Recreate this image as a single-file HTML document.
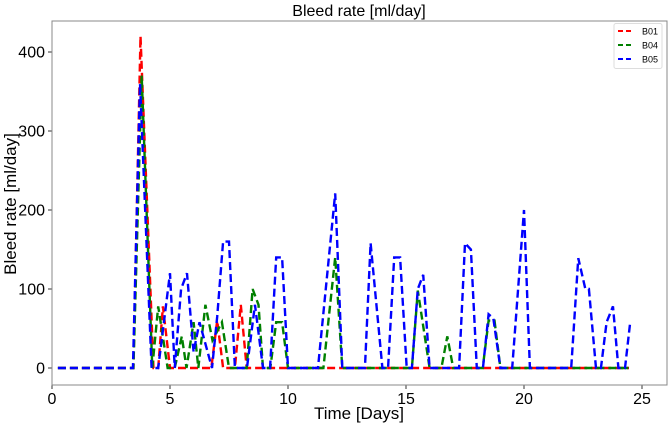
<!DOCTYPE html>
<html><head><meta charset="utf-8"><style>
body{margin:0;background:#fff;}
svg text{font-family:"Liberation Sans","DejaVu Sans",sans-serif;}
</style></head><body>
<svg id="chart" width="669" height="426" xmlns="http://www.w3.org/2000/svg">
<text x="359" y="16" font-size="16" text-anchor="middle">Bleed rate [ml/day]</text>
<text transform="translate(16,204) rotate(-90)" font-size="17" text-anchor="middle">Bleed rate [ml/day]</text>
<text x="359" y="419" font-size="17" text-anchor="middle">Time [Days]</text>
<g id="ticks"></g>
<g id="series"></g>
<rect x="52" y="21" width="615" height="364" fill="none" stroke="#888" stroke-width="1"/>
<g>
<rect x="614" y="23.5" width="48" height="45" rx="2" fill="#fff" stroke="#ddd"/>
<line x1="618" y1="31" x2="633" y2="31" stroke="red" stroke-width="2" stroke-dasharray="5,3"/>
<text x="642" y="34.5" font-size="9">B01</text>
<line x1="618" y1="45" x2="633" y2="45" stroke="green" stroke-width="2" stroke-dasharray="5,3"/>
<text x="642" y="48.5" font-size="9">B04</text>
<line x1="618" y1="59" x2="633" y2="59" stroke="blue" stroke-width="2" stroke-dasharray="5,3"/>
<text x="642" y="62.5" font-size="9">B05</text>
</g>
</svg>
<script>
const xTicks=[0,5,10,15,20,25];
const yTicks=[0,100,200,300,400];
const b01X=[0.25,3.45,3.75,4.3,4.5,4.7,5.0,6.75,7.0,7.25,7.75,8.0,8.25,24.45];
const b01Y=[0,0,420,0,0,78,0,0,60,0,0,80,0,0];
const b04X=[0.25,3.45,3.8,4.25,4.5,4.9,5.2,5.5,5.7,6.0,6.2,6.5,6.8,7.2,7.5,8.25,8.5,8.75,8.94,9.25,9.5,9.75,10.0,11.5,12.0,12.3,15.25,15.5,16.0,16.5,16.75,17.0,18.25,18.5,18.75,19.0,24.45];
const b04Y=[0,0,370,0,78,0,0,40,0,58,0,80,35,58,0,0,100,80,0,0,58,58,0,0,140,0,0,98,0,0,40,0,0,60,60,0,0];
const b05X=[0.25,3.43,3.73,4.22,4.5,5.0,5.2,5.47,5.72,6.0,6.25,6.78,7.0,7.25,7.5,7.75,8.26,8.6,8.94,9.24,9.5,9.75,10.0,11.27,12.0,12.3,13.26,13.5,14.0,14.24,14.5,14.75,15.03,15.25,15.5,15.73,16.0,17.25,17.5,17.75,18.0,18.26,18.5,18.7,19.0,19.5,20.0,20.25,22.0,22.3,22.6,22.75,23.05,23.26,23.5,23.77,24.0,24.28,24.5];
const b05Y=[0,0,360,0,0,120,0,100,120,20,58,0,65,160,160,0,0,80,0,0,140,140,0,0,221,0,0,158,0,0,140,140,0,0,100,118,0,0,158,150,0,0,68,63,0,0,200,0,0,139,100,100,0,0,58,78,0,0,58];
const ns="http://www.w3.org/2000/svg";
const X=d=>52+d*23.6, Y=v=>368-v*0.79;
const tg=document.getElementById('ticks');
function mk(tag,attrs,parent){const e=document.createElementNS(ns,tag);for(const k in attrs)e.setAttribute(k,attrs[k]);parent.appendChild(e);return e;}
xTicks.forEach(t=>{
  const l=mk('line',{x1:X(t),x2:X(t),y1:385,y2:389,stroke:'#333'},tg);
  
  
  const s=mk('text',{x:X(t),y:404,'font-size':16,'text-anchor':'middle'},tg);
  s.textContent=t;
  
  
});
yTicks.forEach(t=>{
  const l=mk('line',{x1:48,x2:52,y1:Y(t),y2:Y(t),stroke:'#333'},tg);
  
  
  const s=mk('text',{x:45,y:Y(t)+5.5,'font-size':16,'text-anchor':'end'},tg);
  s.textContent=t;
  
  
});
const sg=document.getElementById('series');
[[b01X,b01Y,'red','b01'],[b04X,b04Y,'green','b04'],[b05X,b05Y,'blue','b05']].forEach(([xs,ys,c,n])=>{
  const p=mk('polyline',{points:xs.map((x,i)=>X(x)+','+Y(ys[i])).join(' '),fill:'none',stroke:c,'stroke-width':2.4,'stroke-dasharray':'8,4'},sg);
  
  
});
</script>
</body></html>
